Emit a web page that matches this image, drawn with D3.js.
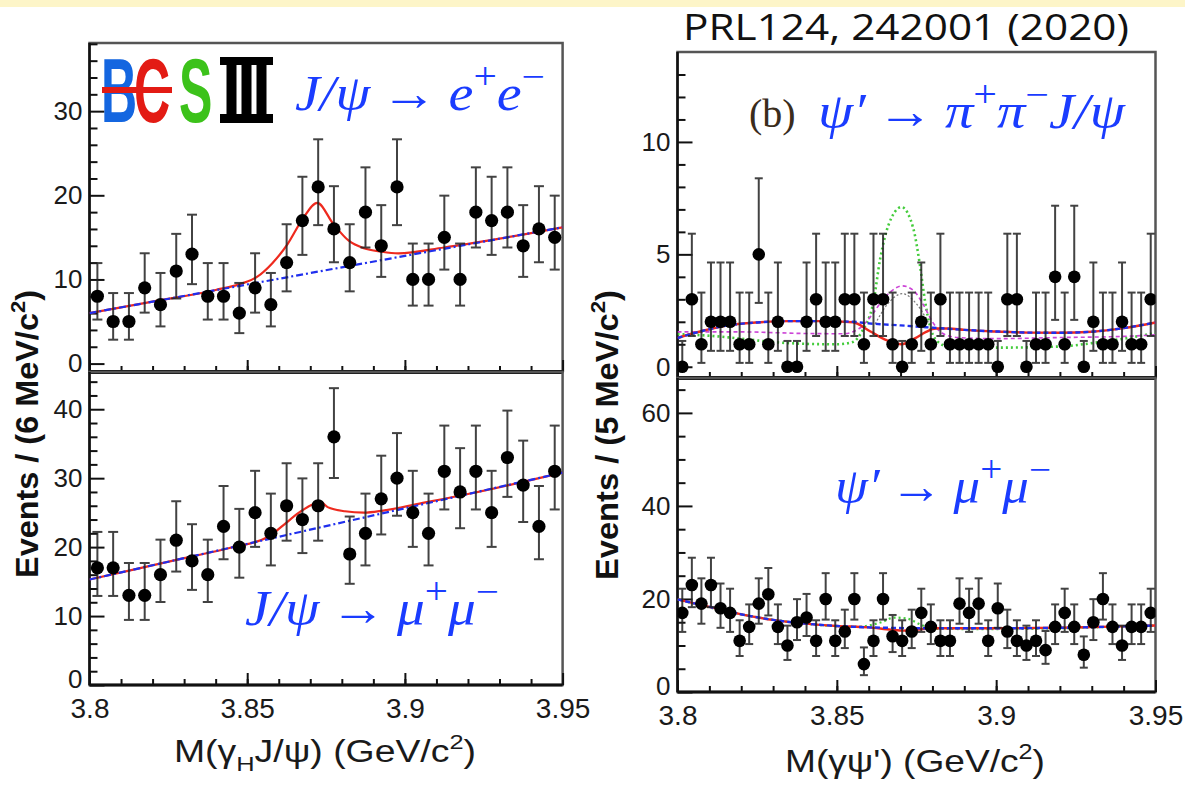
<!DOCTYPE html>
<html>
<head>
<meta charset="utf-8">
<script src="https://cdn.jsdelivr.net/npm/d3@7"></script>
<style>
  body { margin: 0; background: #fff; }
  svg { display: block; }
</style>
</head>
<body>
<div id="chart"></div>
<script>
// ---------------- data ----------------
// bin centres (GeV/c^2)
var binsLeft = [3.8025, 3.8075, 3.8125, 3.8175, 3.8225, 3.8275, 3.8325, 3.8375, 3.8425, 3.8475,
  3.8525, 3.8575, 3.8625, 3.8675, 3.8725, 3.8775, 3.8825, 3.8875, 3.8925, 3.8975,
  3.9025, 3.9075, 3.9125, 3.9175, 3.9225, 3.9275, 3.9325, 3.9375, 3.9425, 3.9475];
var binsRight = [3.8015, 3.8045, 3.8075, 3.8105, 3.8135, 3.8165, 3.8195, 3.8225, 3.8255, 3.8285,
  3.8315, 3.8345, 3.8375, 3.8405, 3.8435, 3.8465, 3.8495, 3.8525, 3.8555, 3.8585,
  3.8615, 3.8645, 3.8675, 3.8705, 3.8735, 3.8765, 3.8795, 3.8825, 3.8855, 3.8885,
  3.8915, 3.8945, 3.8975, 3.9005, 3.9035, 3.9065, 3.9095, 3.9125, 3.9155, 3.9185,
  3.9215, 3.9245, 3.9275, 3.9305, 3.9335, 3.9365, 3.9395, 3.9425, 3.9455, 3.9485];

// event counts
var countsEE = [8, 5, 5, 9, 7, 11, 13, 8, 8, 6, 9, 7, 12, 17, 21, 16, 12, 18, 14, 21,
  10, 10, 15, 10, 18, 17, 18, 14, 16, 15];
var countsMuMu = [17, 17, 13, 13, 16, 21, 18, 16, 23, 20, 25, 22, 26, 24, 26, 36, 19, 22, 27, 30,
  25, 22, 31, 28, 31, 25, 33, 29, 23, 31];
var countsPiPi = [0, 3, 1, 2, 2, 2, 1, 1, 5, 1, 2, 0, 0, 2, 3, 2, 2, 3, 3, 1,
  3, 3, 1, 0, 1, 2, 1, 3, 1, 1, 1, 1, 1, 0, 3, 3, 0, 1, 1, 4,
  1, 4, 0, 2, 1, 1, 2, 1, 1, 3];
var countsPsiMuMu = [17, 23, 19, 23, 18, 17, 11, 14, 19, 21, 14, 10, 15, 16, 11, 20, 11, 13, 20, 6,
  11, 20, 12, 11, 13, 17, 14, 11, 11, 19, 17, 19, 11, 18, 13, 11, 10, 11, 9, 14,
  17, 14, 8, 15, 20, 14, 10, 14, 14, 17];

// fit curves [mass, events]
var fitEE = [[3.800, 6.0], [3.820, 7.36], [3.840, 8.75], [3.8482, 9.5], [3.8531, 10.3], [3.8579, 11.9],
  [3.8628, 14.2], [3.8676, 17.2], [3.8722, 19.1], [3.8773, 16.6], [3.8822, 14.6], [3.887, 13.7],
  [3.8925, 13.3], [3.8979, 13.1], [3.9124, 13.8], [3.930, 14.85], [3.950, 16.2]];
var bkgEE = [[3.800, 6.0], [3.950, 16.2]];
var fitMuMu = [[3.800, 15.3], [3.830, 18.4], [3.845, 19.95], [3.8567, 21.5], [3.8615, 23.2], [3.8664, 25.0],
  [3.8712, 26.3], [3.8731, 26.6], [3.8755, 25.8], [3.881, 25.2], [3.887, 25.0], [3.8931, 25.3],
  [3.905, 26.35], [3.920, 27.7], [3.950, 30.8]];
var bkgMuMu = [[3.800, 15.3], [3.950, 30.8]];

var bkgPiPi = [[3.800, 1.28], [3.808, 1.60], [3.815, 1.82], [3.825, 1.97], [3.835, 2.03], [3.845, 2.03],
  [3.855, 2.00], [3.860, 1.93], [3.870, 1.84], [3.880, 1.74], [3.890, 1.64], [3.900, 1.57],
  [3.910, 1.52], [3.920, 1.51], [3.930, 1.56], [3.940, 1.72], [3.950, 1.97]];
var fitPiPi = [[3.800, 1.28], [3.808, 1.60], [3.815, 1.82], [3.825, 1.97], [3.835, 2.03], [3.845, 2.03],
  [3.855, 1.98], [3.8604, 1.58], [3.8656, 1.18], [3.8703, 1.0], [3.8745, 1.26], [3.878, 1.55],
  [3.881, 1.70], [3.885, 1.70], [3.890, 1.64], [3.900, 1.57], [3.910, 1.52], [3.920, 1.51],
  [3.930, 1.56], [3.940, 1.72], [3.950, 1.97]];
var altPiPi = [[3.800, 1.55], [3.820, 1.55], [3.840, 1.48], [3.852, 1.47], [3.857, 1.7], [3.861, 2.3],
  [3.864, 2.9], [3.867, 3.35], [3.8705, 3.6], [3.874, 3.4], [3.877, 2.8], [3.880, 2.0],
  [3.883, 1.5], [3.888, 1.3], [3.900, 1.25], [3.920, 1.3], [3.940, 1.35], [3.950, 1.42]];
var ulPiPi = [[3.800, 1.45], [3.810, 1.38], [3.820, 1.25], [3.830, 1.1], [3.840, 1.02], [3.850, 1.0],
  [3.855, 1.1], [3.858, 1.6], [3.8615, 2.9], [3.8636, 4.8], [3.8662, 6.3], [3.8703, 7.1],
  [3.874, 6.15], [3.8761, 4.5], [3.8777, 2.9], [3.8793, 1.77], [3.8814, 1.15], [3.885, 0.9],
  [3.900, 0.85], [3.920, 0.9], [3.930, 1.05], [3.940, 1.25], [3.950, 1.5]];
var sigPiPi = [[3.862, 1.9], [3.866, 2.8], [3.8705, 3.25], [3.875, 2.8], [3.879, 1.9]];

var bkgPsi = [[3.800, 19.9], [3.810, 18.3], [3.820, 16.7], [3.830, 15.5], [3.840, 14.7], [3.850, 14.2],
  [3.860, 13.9], [3.880, 13.7], [3.900, 13.7], [3.920, 13.8], [3.940, 14.1], [3.950, 14.3]];
var fitPsi = [[3.800, 19.9], [3.810, 18.3], [3.820, 16.7], [3.830, 15.5], [3.840, 14.7], [3.850, 14.2],
  [3.860, 13.9], [3.867, 13.4], [3.871, 13.2], [3.875, 13.4], [3.880, 13.7], [3.900, 13.7],
  [3.920, 13.8], [3.940, 14.1], [3.950, 14.3]];
var ulPsi = [[3.800, 19.9], [3.820, 16.7], [3.840, 14.7], [3.856, 14.0], [3.864, 15.0], [3.868, 16.0],
  [3.872, 15.8], [3.876, 14.6], [3.880, 13.6], [3.900, 13.5], [3.920, 13.7], [3.950, 14.3]];

// tick labels
var massTicks = [3.8, 3.85, 3.9, 3.95];
var ticksEE = [0, 10, 20, 30];
var ticksMuMu = [0, 10, 20, 30, 40];
var ticksPiPi = [0, 5, 10];
var ticksPsi = [0, 20, 40, 60];

// ---------------- helpers ----------------
var W = 1185, H = 786;
var red = "#ee2a1e", blue = "#1f2fee", magenta = "#cc44d6", green = "#44cc3c", mathBlue = "#1a3cff";

// Poisson 68.3% interval of a count (how the error bars of the plot were made)
function poisCdf(n, mu) {
  var t = Math.exp(-mu), s = t;
  for (var k = 1; k <= n; k++) { t *= mu / k; s += t; }
  return s;
}
function solve(f, lo, hi) {
  for (var i = 0; i < 60; i++) {
    var m = (lo + hi) / 2;
    if (f(lo) * f(m) <= 0) hi = m; else lo = m;
  }
  return (lo + hi) / 2;
}
function poisInterval(n) {
  var a = 0.158655;
  if (n === 0) return [0, -Math.log(2 * a)];
  var top = n + 10 * Math.sqrt(n) + 10;
  var lo = solve(function(mu) { return 1 - poisCdf(n - 1, mu) - a; }, 0, n);
  var hi = solve(function(mu) { return poisCdf(n, mu) - a; }, n, top);
  return [lo, hi];
}

var svg = d3.select("#chart").append("svg")
  .attr("width", W)
  .attr("height", H);

svg.append("rect").attr("width", W).attr("height", H).attr("fill", "#fff");
svg.append("rect").attr("width", W).attr("height", 7).attr("fill", "#fdf5c8");

var defs = svg.append("defs");

// one histogram pad
function drawPad(p) {
  var x = d3.scaleLinear().domain([3.8, 3.95]).range([p.left, p.right]);
  var y = d3.scaleLinear().domain(p.yDomain).range([p.bottom, p.top]);

  var clipId = "clip" + p.id;
  defs.append("clipPath").attr("id", clipId)
    .append("rect")
    .attr("x", p.left).attr("y", p.top)
    .attr("width", p.right - p.left).attr("height", p.bottom - p.top);

  var g = svg.append("g");

  // frame
  g.append("rect")
    .attr("x", p.left).attr("y", p.top)
    .attr("width", p.right - p.left).attr("height", p.bottom - p.top)
    .attr("fill", "none").attr("stroke", "#555").attr("stroke-width", 2.5);

  // y axis, major + minor ticks pointing inward
  var minorY = d3.range(p.yMinorStep, p.yDomain[1] - 0.01, p.yMinorStep)
    .filter(function(v) { return p.yTicks.indexOf(v) < 0; });
  g.append("g")
    .attr("transform", `translate(${p.left},0)`)
    .call(d3.axisLeft(y).tickValues(minorY).tickSize(-8).tickFormat(""))
    .call(function(a) { a.select(".domain").remove(); });
  g.append("g")
    .attr("class", "yaxis")
    .attr("transform", `translate(${p.left},0)`)
    .call(d3.axisLeft(y).tickValues(p.yTicks).tickSize(-15).tickPadding(7).tickFormat(d3.format("d")))
    .call(function(a) { a.select(".domain").remove(); });

  // x axis at the bottom
  g.append("g")
    .attr("transform", `translate(0,${p.bottom})`)
    .call(d3.axisBottom(x).tickValues(d3.range(3.81, 3.945, 0.01)).tickSize(-6).tickFormat(""))
    .call(function(a) { a.select(".domain").remove(); });
  g.append("g")
    .attr("class", "xaxis")
    .attr("transform", `translate(0,${p.bottom})`)
    .call(d3.axisBottom(x).tickValues(massTicks).tickSize(-12).tickPadding(13)
      .tickFormat(p.xLabels ? d3.format("") : ""))
    .call(function(a) { a.select(".domain").remove(); });

  g.selectAll(".tick line").attr("stroke", "#111").attr("stroke-width", 2);
  g.selectAll(".yaxis text").attr("font-size", 26);
  g.selectAll(".xaxis text").attr("font-size", 28);
  g.selectAll(".tick text")
    .attr("font-family", "Liberation Sans, Arial, sans-serif")
    .attr("fill", "#1a1a1a");
  // the zero label of a lower pad sits just above the mass labels
  if (p.xLabels) {
    g.selectAll(".yaxis .tick text").filter(function(d) { return d === 0; }).attr("dy", "0.1em");
  }

  // left and bottom axis lines
  g.append("line").attr("x1", p.left).attr("x2", p.left).attr("y1", p.top).attr("y2", p.bottom)
    .attr("stroke", "#111").attr("stroke-width", 2.5);
  g.append("line").attr("x1", p.left).attr("x2", p.right).attr("y1", p.bottom).attr("y2", p.bottom)
    .attr("stroke", "#111").attr("stroke-width", p.bottomWidth);

  var plot = g.append("g").attr("clip-path", `url(#${clipId})`);
  var line = d3.line()
    .x(function(d) { return x(d[0]); })
    .y(function(d) { return y(d[1]); })
    .curve(d3.curveMonotoneX);

  p.curves.forEach(function(c) {
    plot.append("path")
      .datum(c.data)
      .attr("d", line)
      .attr("fill", "none")
      .attr("stroke", c.color)
      .attr("stroke-width", c.width)
      .attr("stroke-dasharray", c.dash || null)
      .attr("opacity", c.opacity || 1);
  });

  // data points with Poisson error bars
  var pts = p.bins.map(function(b, i) {
    var iv = poisInterval(p.counts[i]);
    return { m: b, n: p.counts[i], lo: iv[0], hi: iv[1] };
  });
  var bars = plot.selectAll(".err").data(pts).enter().append("g").attr("class", "err")
    .attr("stroke", "#222").attr("stroke-width", 2).attr("opacity", 0.85);
  bars.append("line")
    .attr("x1", function(d) { return x(d.m); }).attr("x2", function(d) { return x(d.m); })
    .attr("y1", function(d) { return y(d.lo); }).attr("y2", function(d) { return y(d.hi); });
  bars.append("line")
    .attr("x1", function(d) { return x(d.m) - p.cap; }).attr("x2", function(d) { return x(d.m) + p.cap; })
    .attr("y1", function(d) { return y(d.hi); }).attr("y2", function(d) { return y(d.hi); });
  bars.append("line")
    .attr("x1", function(d) { return x(d.m) - p.cap; }).attr("x2", function(d) { return x(d.m) + p.cap; })
    .attr("y1", function(d) { return y(d.lo); }).attr("y2", function(d) { return y(d.lo); });

  plot.selectAll(".pt").data(pts).enter().append("circle")
    .attr("class", "pt")
    .attr("cx", function(d) { return x(d.m); })
    .attr("cy", function(d) { return y(d.n); })
    .attr("r", p.r)
    .attr("fill", "#000");
}

var pads = [
  { id: "ee", left: 89.5, right: 562.6, top: 43, bottom: 372, yDomain: [-1, 38.1],
    yTicks: ticksEE, yMinorStep: 2, xLabels: false, bottomWidth: 4,
    bins: binsLeft, counts: countsEE, r: 6.6, cap: 5,
    curves: [
      { data: fitEE, color: red, width: 2.2 },
      { data: bkgEE, color: blue, width: 2.2, dash: "7,3,2,3" }
    ] },
  { id: "mm", left: 89.5, right: 562.6, top: 372, bottom: 685, yDomain: [0, 45.4],
    yTicks: ticksMuMu, yMinorStep: 2, xLabels: true, bottomWidth: 3,
    bins: binsLeft, counts: countsMuMu, r: 6.6, cap: 5,
    curves: [
      { data: fitMuMu, color: red, width: 2.2 },
      { data: bkgMuMu, color: blue, width: 2.2, dash: "7,3,2,3" }
    ] },
  { id: "pp", left: 677.5, right: 1155.5, top: 52, bottom: 378, yDomain: [-0.5, 14],
    yTicks: ticksPiPi, yMinorStep: 1, xLabels: false, bottomWidth: 4,
    bins: binsRight, counts: countsPiPi, r: 6.3, cap: 4,
    curves: [
      { data: ulPiPi, color: green, width: 2.6, dash: "2,3" },
      { data: altPiPi, color: magenta, width: 1.6, dash: "4,3" },
      { data: sigPiPi, color: "#777", width: 1.2, dash: "2,2" },
      { data: fitPiPi, color: red, width: 2.4 },
      { data: bkgPiPi, color: blue, width: 2.4, dash: "5,3" }
    ] },
  { id: "pm", left: 677.5, right: 1155.5, top: 378, bottom: 692, yDomain: [0, 67.5],
    yTicks: ticksPsi, yMinorStep: 5, xLabels: true, bottomWidth: 3,
    bins: binsRight, counts: countsPsiMuMu, r: 6.3, cap: 4,
    curves: [
      { data: ulPsi, color: green, width: 2.2, dash: "2,3" },
      { data: fitPsi, color: red, width: 2.4 },
      { data: bkgPsi, color: blue, width: 2.4, dash: "5,3" }
    ] }
];
pads.forEach(drawPad);

// ---------------- texts ----------------
var sans = "Liberation Sans, Arial, sans-serif";
var serif = "Liberation Serif, DejaVu Serif, serif";

function richText(x, y, parts, o) {
  var t = svg.append("text")
    .attr("x", x).attr("y", y)
    .attr("font-family", o.family)
    .attr("font-size", o.size)
    .attr("font-weight", o.weight || "normal")
    .attr("fill", o.color)
    .attr("text-anchor", o.anchor || "start");
  if (o.rotate) t.attr("transform", `rotate(${o.rotate},${x},${y})`);
  var cur = 0;
  var small = o.small || 0.68;
  parts.forEach(function(p) {
    var off = p.sup ? -0.42 * o.size : (p.sub ? 0.3 * o.size : 0);
    t.append("tspan")
      .attr("dy", off - cur)
      .attr("font-size", (p.sup || p.sub) ? o.size * small : o.size)
      .attr("font-style", p.it ? "italic" : "normal")
      .text(p.t);
    cur = off;
  });
  if (o.len) t.attr("textLength", o.len).attr("lengthAdjust", "spacingAndGlyphs");
  return t;
}

// reference
svg.append("text")
  .attr("x", 683).attr("y", 40)
  .attr("font-family", "Open Sans, Noto Sans, sans-serif")
  .attr("font-size", 36)
  .attr("fill", "#111")
  .attr("textLength", 446).attr("lengthAdjust", "spacingAndGlyphs")
  .text("PRL124, 242001 (2020)");

// axis titles
richText(38, 434, [{ t: "Events / (6 MeV/c" }, { t: "2", sup: true }, { t: ")" }],
  { family: sans, size: 31, weight: "bold", color: "#111", anchor: "middle", rotate: -90, len: 288 });
richText(618, 435, [{ t: "Events / (5 MeV/c" }, { t: "2", sup: true }, { t: ")" }],
  { family: sans, size: 31, weight: "bold", color: "#111", anchor: "middle", rotate: -90, len: 290 });
richText(174, 762, [{ t: "M(γ" }, { t: "H", sub: true }, { t: "J/ψ) (GeV/c" }, { t: "2", sup: true }, { t: ")" }],
  { family: sans, size: 31, color: "#1a1a1a", len: 302 });
richText(785, 772, [{ t: "M(γψ') (GeV/c" }, { t: "2", sup: true }, { t: ")" }],
  { family: sans, size: 32, color: "#1a1a1a", len: 260 });

// decay channel labels
var arrow = "\u2009→\u2009";
var mathOpts = { family: serif, size: 50, color: mathBlue, small: 0.74 };
richText(295, 110, [{ t: "J/ψ", it: true }, { t: arrow }, { t: "e", it: true }, { t: "+", sup: true },
  { t: "e", it: true }, { t: "−", sup: true }],
  Object.assign({ len: 250 }, mathOpts));
richText(245, 625, [{ t: "J/ψ", it: true }, { t: arrow }, { t: "μ", it: true }, { t: "+", sup: true },
  { t: "μ", it: true }, { t: "−", sup: true }],
  Object.assign({ len: 254 }, mathOpts));
svg.append("text")
  .attr("x", 749).attr("y", 127)
  .attr("font-family", serif).attr("font-size", 40).attr("fill", "#3a2c1c")
  .text("(b)");
richText(818, 128, [{ t: "ψ′", it: true }, { t: arrow }, { t: "π", it: true }, { t: "+", sup: true },
  { t: "π", it: true }, { t: "−", sup: true }, { t: "J/ψ", it: true }],
  Object.assign({ len: 307 }, mathOpts));
richText(835, 503, [{ t: "ψ′", it: true }, { t: arrow }, { t: "μ", it: true }, { t: "+", sup: true },
  { t: "μ", it: true }, { t: "−", sup: true }],
  Object.assign({ len: 216 }, mathOpts));

// BESIII logo
var logo = svg.append("g");
[["B", "#1466e0", 101], ["C", "#e31b14", 134], ["S", "#3cc21a", 179]].forEach(function(l) {
  logo.append("text")
    .attr("transform", `translate(${l[2]},122) scale(0.55,1)`)
    .attr("font-family", sans).attr("font-weight", "bold").attr("font-size", 91)
    .attr("fill", l[1])
    .text(l[0]);
});
logo.append("rect").attr("x", 102).attr("y", 87).attr("width", 70).attr("height", 6).attr("fill", "#e31b14");
logo.append("rect").attr("x", 220).attr("y", 57).attr("width", 53).attr("height", 8).attr("fill", "#000");
logo.append("rect").attr("x", 220).attr("y", 114).attr("width", 53).attr("height", 9).attr("fill", "#000");
[226.5, 241.5, 256.5].forEach(function(sx) {
  logo.append("rect").attr("x", sx).attr("y", 64).attr("width", 10).attr("height", 51).attr("fill", "#000");
});
</script>
</body>
</html>
